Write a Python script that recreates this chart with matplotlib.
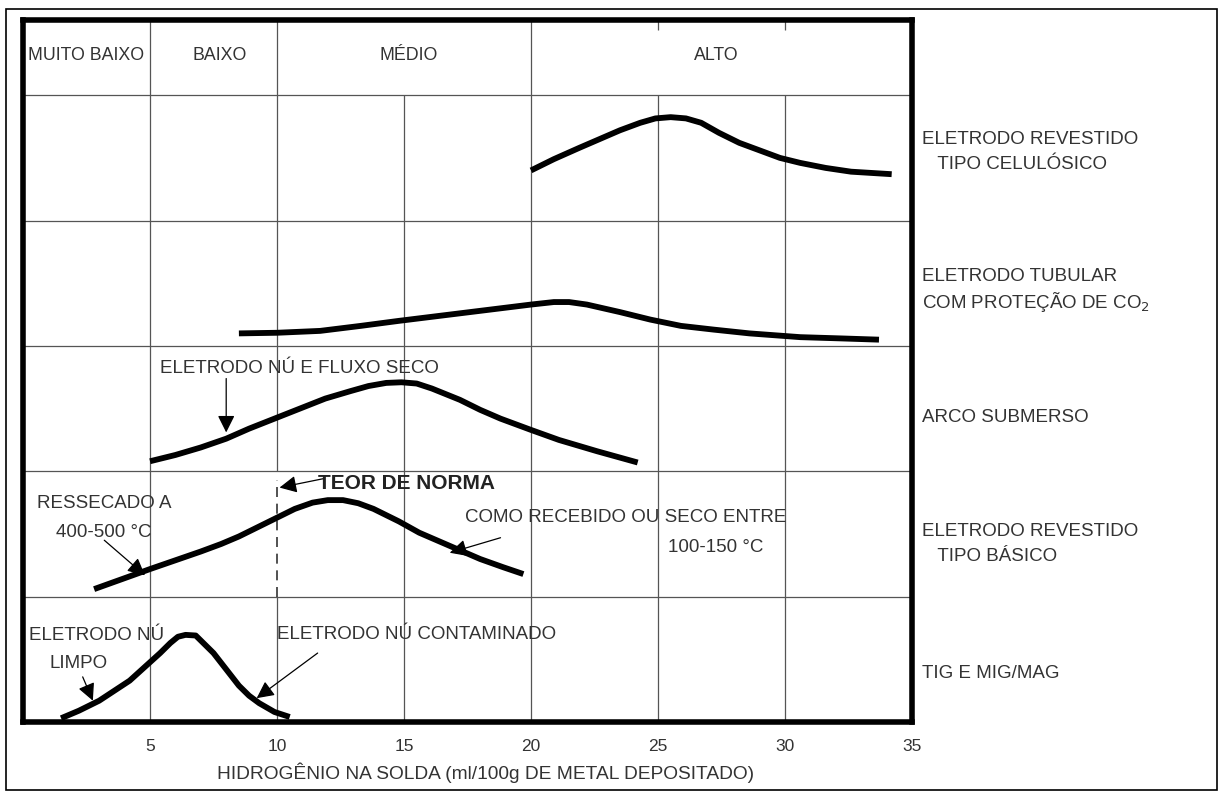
import matplotlib.pyplot as plt
from matplotlib.patches import Rectangle

plt.rcParams['font.family'] = ['Liberation Sans', 'DejaVu Sans']

# x em ml/100g, y em unidades de faixa (cada processo ocupa 1 faixa)
cel_x = [20.0, 20.9, 21.9, 22.7, 23.5, 24.3, 24.9, 25.5, 26.1, 26.7, 27.4,
         28.2, 29.0, 29.8, 30.6, 31.6, 32.6, 33.4, 34.2]
cel_y = [4.40, 4.49, 4.58, 4.65, 4.72, 4.78, 4.815, 4.825, 4.815, 4.78, 4.70,
         4.62, 4.56, 4.50, 4.46, 4.42, 4.39, 4.38, 4.37]

tub_x = [8.5, 10.0, 11.7, 13.3, 14.8, 16.2, 17.6, 18.8, 20.0, 20.9, 21.5,
         22.2, 23.5, 24.7, 25.9, 27.2, 28.6, 30.6, 32.2, 33.7]
tub_y = [3.10, 3.105, 3.12, 3.16, 3.20, 3.235, 3.27, 3.30, 3.33, 3.35, 3.35,
         3.33, 3.27, 3.21, 3.16, 3.13, 3.10, 3.07, 3.06, 3.05]

arco_x = [5.0, 6.0, 7.0, 8.0, 8.9, 9.9, 10.9, 11.9, 12.9, 13.6, 14.3, 14.9,
          15.5, 16.1, 17.2, 18.0, 18.8, 20.0, 21.1, 22.6, 24.2]
arco_y = [2.08, 2.13, 2.19, 2.26, 2.34, 2.42, 2.50, 2.58, 2.64, 2.68, 2.705,
          2.71, 2.70, 2.66, 2.57, 2.49, 2.42, 2.33, 2.25, 2.16, 2.07]

bas_x = [2.8, 3.9, 5.0, 6.0, 7.0, 7.8, 8.5, 9.3, 10.1, 10.7, 11.4, 12.0,
         12.6, 13.2, 13.8, 14.8, 15.6, 16.4, 17.2, 18.0, 18.9, 19.7]
bas_y = [1.06, 1.14, 1.22, 1.29, 1.36, 1.42, 1.48, 1.56, 1.64, 1.70, 1.75,
         1.77, 1.77, 1.745, 1.70, 1.60, 1.51, 1.44, 1.37, 1.30, 1.235, 1.18]

tig_x = [1.5, 2.2, 3.0, 3.6, 4.2, 4.8, 5.4, 5.8, 6.1, 6.4, 6.8, 7.1, 7.5,
         8.0, 8.5, 8.9, 9.3, 9.9, 10.5]
tig_y = [0.03, 0.09, 0.17, 0.25, 0.33, 0.44, 0.55, 0.63, 0.68, 0.695, 0.69,
         0.63, 0.55, 0.42, 0.29, 0.21, 0.15, 0.08, 0.04]

faixas = ['MUITO BAIXO', 'BAIXO', 'MÉDIO', 'ALTO']
faixas_x = [2.5, 7.75, 15.2, 27.3]
processos = [
    ('ELETRODO REVESTIDO', '   TIPO CELULÓSICO', 4.55),
    ('ELETRODO TUBULAR', 'COM PROTEÇÃO DE CO$_2$', 3.45),
    ('ARCO SUBMERSO', None, 2.43),
    ('ELETRODO REVESTIDO', '   TIPO BÁSICO', 1.42),
    ('TIG E MIG/MAG', None, 0.39),
]
xticks = [5, 10, 15, 20, 25, 30, 35]

fig = plt.figure(figsize=(12.23, 7.96), dpi=100)
ax = fig.add_axes([23 / 1223, 74 / 796, 889 / 1223, 702 / 796])
ax.set_xlim(0, 35)
ax.set_ylim(0, 5.6)

grid = dict(color='#555555', lw=0.9, zorder=1)
for y in [1, 2, 3, 4, 5]:
    ax.axhline(y, **grid)
for x in [5, 20]:
    ax.vlines(x, 0, 5.6, **grid)
ax.vlines(10, 0, 1, **grid)
ax.vlines(10, 2, 5.6, **grid)
ax.vlines(10, 1, 1.93, color='#333333', lw=1.2, linestyles=(0, (6, 4)), zorder=1)
for x in [15, 25, 30]:
    ax.vlines(x, 0, 5, **grid)
for x in [25, 30]:
    ax.vlines(x, 5.52, 5.6, **grid)

for xs, ys in [(cel_x, cel_y), (tub_x, tub_y), (arco_x, arco_y),
               (bas_x, bas_y), (tig_x, tig_y)]:
    ax.plot(xs, ys, color='black', lw=4.2, solid_capstyle='butt',
            solid_joinstyle='round', zorder=3)

for s in ax.spines.values():
    s.set_linewidth(4)
ax.set_yticks([])
ax.set_xticks(xticks)
ax.tick_params(axis='x', length=0, pad=12, labelsize=12.5, labelcolor='#333333')
ax.set_xlabel('HIDROGÊNIO NA SOLDA (ml/100g DE METAL DEPOSITADO)',
              fontsize=13.8, color='#333333', va='center')
ax.xaxis.set_label_coords(0.52, -0.0726)

for nome, xc in zip(faixas, faixas_x):
    ax.text(xc, 5.32, nome, ha='center', va='center', fontsize=12.8, color='#333333')

for l1, l2, yc in processos:
    if l2 is None:
        ax.text(35.4, yc, l1, ha='left', va='center', fontsize=13.5,
                color='#333333', clip_on=False)
    else:
        ax.text(35.4, yc + 0.1, l1, ha='left', va='center', fontsize=13.5,
                color='#333333', clip_on=False)
        ax.text(35.4, yc - 0.1, l2, ha='left', va='center', fontsize=13.5,
                color='#333333', clip_on=False)

seta = dict(arrowstyle='-|>', color='black', lw=0.9, mutation_scale=26,
            shrinkA=0, shrinkB=0)
tf = dict(fontsize=13.5, color='#333333')

ax.text(5.4, 2.82, 'ELETRODO NÚ E FLUXO SECO', ha='left', va='center', **tf)
ax.annotate('', xy=(8.0, 2.31), xytext=(8.0, 2.74), arrowprops=seta)

ax.text(11.6, 1.90, 'TEOR DE NORMA', ha='left', va='center', fontsize=15,
        fontweight='bold', color='#222222')
ax.annotate('', xy=(10.1, 1.87), xytext=(11.8, 1.94), arrowprops=seta)

ax.text(0.55, 1.74, 'RESSECADO A', ha='left', va='center', **tf)
ax.text(1.3, 1.51, '400-500 °C', ha='left', va='center', **tf)
ax.annotate('', xy=(4.8, 1.17), xytext=(3.2, 1.45), arrowprops=seta)

ax.text(17.4, 1.63, 'COMO RECEBIDO OU SECO ENTRE', ha='left', va='center', **tf)
ax.text(25.4, 1.39, '100-150 °C', ha='left', va='center', **tf)
ax.annotate('', xy=(16.8, 1.35), xytext=(18.8, 1.47), arrowprops=seta)

ax.text(0.25, 0.69, 'ELETRODO NÚ', ha='left', va='center', **tf)
ax.text(1.05, 0.47, 'LIMPO', ha='left', va='center', **tf)
ax.annotate('', xy=(2.75, 0.17), xytext=(2.35, 0.36), arrowprops=seta)

ax.text(10.0, 0.70, 'ELETRODO NÚ CONTAMINADO', ha='left', va='center', **tf)
ax.annotate('', xy=(9.2, 0.19), xytext=(11.6, 0.55), arrowprops=seta)

fig.patches.append(Rectangle((6 / 1223, 6 / 796), 1211 / 1223, 781 / 796,
                             transform=fig.transFigure, fill=False,
                             lw=1.2, ec='black'))

fig.savefig('out.png', dpi=100)
